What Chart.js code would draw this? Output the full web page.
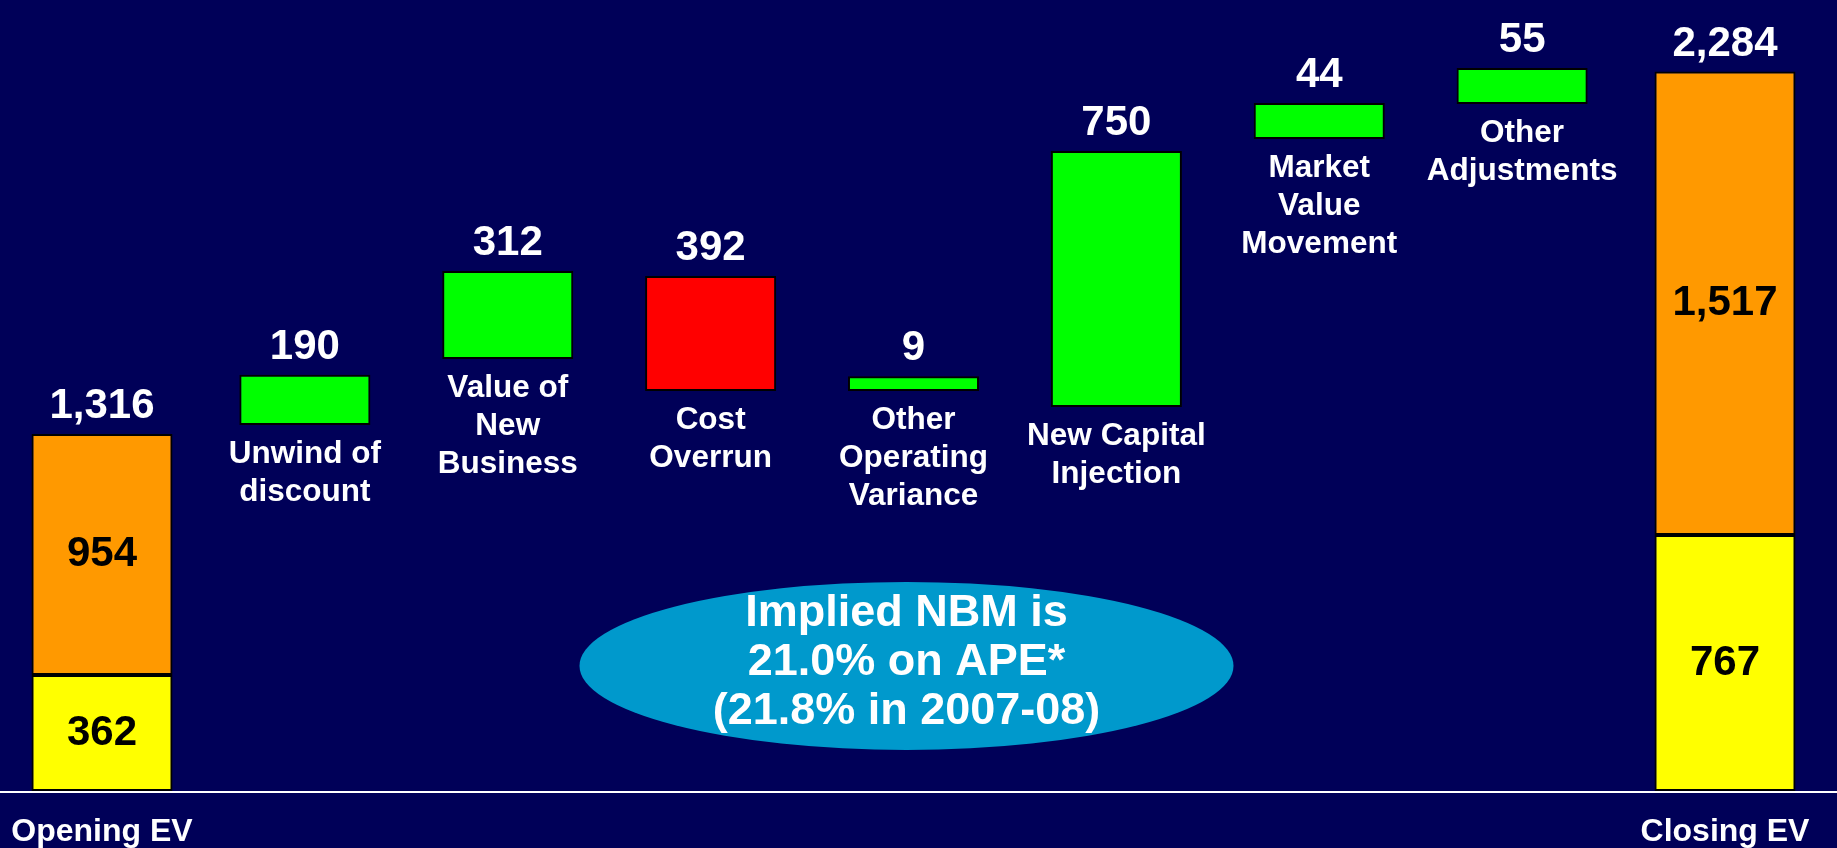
<!DOCTYPE html>
<html>
<head>
<meta charset="utf-8">
<script src="https://cdn.jsdelivr.net/npm/chart.js@4"></script>
<style>
    html, body { margin: 0; padding: 0; background: #000058; }
    #wrap { width: 1837px; height: 848px; position: relative; }
</style>
</head>
<body>
<div id="wrap"><canvas id="evChart"></canvas></div>
<script>
// Categorias (una linea por elemento)
const categories = [
    ['Opening EV'],
    ['Unwind of', 'discount'],
    ['Value of', 'New', 'Business'],
    ['Cost', 'Overrun'],
    ['Other', 'Operating', 'Variance'],
    ['New Capital', 'Injection'],
    ['Market', 'Value', 'Movement'],
    ['Other', 'Adjustments'],
    ['Closing EV']
];

// Valores rotulados en el grafico
const openingParts = [362, 954];   // amarillo, naranja
const closingParts = [767, 1517];
const movementValues = [190, 312, -392, 9, 750, 44, 55];

// La diapositiva original no esta a escala: extremos de las barras
const openingExtent = [368, 1133];          // limite amarillo/naranja, tope
const closingExtent = [813, 2284];
const stepLow  = [1162, 1371, 1270, 1270, 1219, 2070, 2181];
const stepHigh = [1321, 1651, 1635, 1317, 2032, 2184, 2295];

const ellipseText = ['Implied NBM is', '21.0% on APE*', '(21.8% in 2007-08)'];

const fmt = v => Math.abs(v).toLocaleString('en-US');
const FONT = '"Liberation Sans", Arial, sans-serif';

const n = categories.length;
const blank = () => Array(n).fill(null);

const yellowData = blank();
yellowData[0] = [0, openingExtent[0]];
yellowData[n - 1] = [0, closingExtent[0]];

const orangeData = blank();
orangeData[0] = [openingExtent[0], openingExtent[1]];
orangeData[n - 1] = [closingExtent[0], closingExtent[1]];

const stepData = blank();
const stepColors = blank();
movementValues.forEach((v, i) => {
    stepData[i + 1] = [stepLow[i], stepHigh[i]];
    stepColors[i + 1] = v >= 0 ? '#00FF00' : '#FF0000';
});

// Textos para cada barra
const topLabels = [fmt(openingParts[0] + openingParts[1])]
    .concat(movementValues.map(fmt))
    .concat([fmt(closingParts[0] + closingParts[1])]);

const labelPlugin = {
    id: 'evLabels',
    afterDatasetsDraw(chart) {
        const ctx = chart.ctx;
        const xs = chart.scales.x;
        const ys = chart.scales.y;

        // linea base blanca
        const y0 = ys.getPixelForValue(0);
        ctx.save();
        ctx.strokeStyle = '#FFFFFF';
        ctx.lineWidth = 2;
        ctx.beginPath();
        ctx.moveTo(0, y0 + 1);
        ctx.lineTo(chart.width, y0 + 1);
        ctx.stroke();

        // elipse
        const ex = xs.getPixelForValue(4) - 7;
        const ey = ys.getPixelForValue(397);
        ctx.fillStyle = '#0099CC';
        ctx.beginPath();
        ctx.ellipse(ex, ey, 327, 84, 0, 0, Math.PI * 2);
        ctx.fill();
        ctx.fillStyle = '#FFFFFF';
        ctx.font = `bold 45px ${FONT}`;
        ctx.textAlign = 'center';
        ctx.textBaseline = 'middle';
        ellipseText.forEach((t, i) => ctx.fillText(t, ex, ey - 52 + i * 49));

        const metaY = chart.getDatasetMeta(0);
        const metaO = chart.getDatasetMeta(1);
        const metaS = chart.getDatasetMeta(2);

        for (let i = 0; i < n; i++) {
            const edge = (i === 0 || i === n - 1) ? [metaY.data[i], metaO.data[i]] : [metaS.data[i]];
            let top = Infinity, bottom = -Infinity;
            edge.forEach(el => {
                top = Math.min(top, el.y, el.base);
                bottom = Math.max(bottom, el.y, el.base);
            });
            const cx = xs.getPixelForValue(i);

            // valor encima
            ctx.fillStyle = '#FFFFFF';
            ctx.font = `bold 42px ${FONT}`;
            ctx.textBaseline = 'alphabetic';
            ctx.fillText(topLabels[i], cx, top - 16);

            if (i === 0 || i === n - 1) {
                const parts = i === 0 ? openingParts : closingParts;
                const ey1 = metaY.data[i], eo = metaO.data[i];
                ctx.fillStyle = '#000000';
                ctx.textBaseline = 'middle';
                ctx.fillText(fmt(parts[0]), cx, (ey1.y + ey1.base) / 2);
                ctx.fillText(fmt(parts[1]), cx, (eo.y + eo.base) / 2);

                ctx.fillStyle = '#FFFFFF';
                ctx.font = `bold 32px ${FONT}`;
                ctx.fillText(categories[i][0], cx, y0 + 41);
            } else {
                ctx.fillStyle = '#FFFFFF';
                ctx.font = `bold 31.5px ${FONT}`;
                ctx.textBaseline = 'middle';
                categories[i].forEach((line, k) => {
                    ctx.fillText(line, cx, bottom + 29 + k * 38);
                });
            }
        }
        ctx.restore();
    }
};

const ctx = document.getElementById('evChart').getContext('2d');
new Chart(ctx, {
    type: 'bar',
    data: {
        labels: categories.map(c => c.join(' ')),
        datasets: [
            {
                label: 'Lower',
                data: yellowData,
                backgroundColor: '#FFFF00',
                borderColor: '#000000',
                borderWidth: 2,
                borderSkipped: false,
                grouped: false,
                barPercentage: 0.695,
                categoryPercentage: 1,
                clip: false
            },
            {
                label: 'Upper',
                data: orangeData,
                backgroundColor: '#FF9900',
                borderColor: '#000000',
                borderWidth: 2,
                borderSkipped: false,
                grouped: false,
                barPercentage: 0.695,
                categoryPercentage: 1,
                clip: false
            },
            {
                label: 'Movements',
                data: stepData,
                backgroundColor: stepColors,
                borderColor: '#000000',
                borderWidth: 2,
                borderSkipped: false,
                grouped: false,
                barPercentage: 0.646,
                categoryPercentage: 1,
                clip: false
            }
        ]
    },
    options: {
        responsive: true,
        maintainAspectRatio: false,
        animation: false,
        layout: {
            padding: { left: 102, right: 112, top: 0, bottom: 57 }
        },
        scales: {
            x: {
                display: false,
                offset: false
            },
            y: {
                display: false,
                min: 0,
                max: 2511
            }
        },
        plugins: {
            legend: { display: false },
            tooltip: { enabled: false }
        }
    },
    plugins: [labelPlugin]
});
</script>
</body>
</html>
